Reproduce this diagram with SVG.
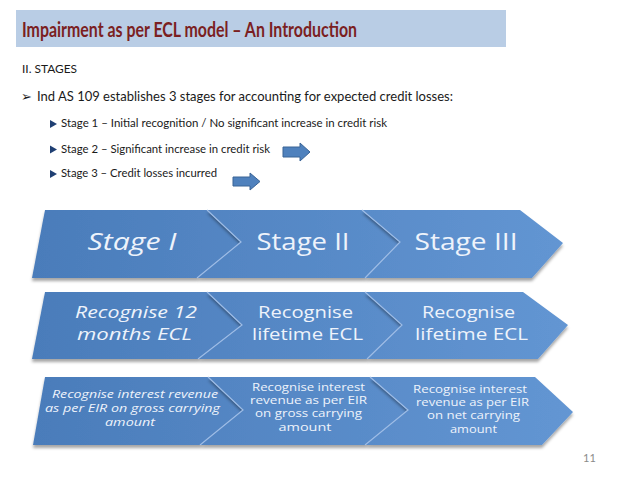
<svg xmlns="http://www.w3.org/2000/svg" width="638" height="479" viewBox="0 0 638 479">
<defs>
<linearGradient id="rowGrad" gradientUnits="userSpaceOnUse" x1="30" y1="0" x2="575" y2="0">
<stop offset="0" stop-color="#4a7cba"/>
<stop offset="1" stop-color="#6396d3"/>
</linearGradient>
<filter id="shadow" x="-5%" y="-10%" width="110%" height="130%">
<feDropShadow dx="0" dy="3" stdDeviation="1.8" flood-color="#000" flood-opacity="0.35"/>
</filter>
</defs>
<style>
.bg{fill:#ffffff}
.title-bar{fill:#b9cde5}
.title{font-family:Lato,"Open Sans",sans-serif;font-weight:bold;font-size:21px;fill:#7b1f22}
.body{font-family:Lato,"Open Sans",sans-serif;fill:#1a1a1a}
.shape{fill:url(#rowGrad);filter:url(#shadow)}
.sep{fill:none;stroke:#9dbce6;stroke-width:1.2}
.st{font-family:"Open Sans",Lato,sans-serif;fill:#eef3fb;text-anchor:middle}
.it{font-style:italic}
.r1{font-size:24px}
.r2{font-size:17px}
.r3{font-size:10.8px}
.barrow{fill:#4f81bd;stroke:#3a6496;stroke-width:1}
.bul{fill:#1f3f73}
.pg{font-family:Lato,"Open Sans",sans-serif;font-size:11px;fill:#8a8a8a}
</style>
<rect class="bg" x="0" y="0" width="638" height="479"/>

<g id="title">
<rect class="title-bar" x="16" y="10" width="490" height="37"/>
<text class="title" x="22" y="36.5" textLength="335" lengthAdjust="spacingAndGlyphs">Impairment as per ECL model – An Introduction</text>
</g>

<g id="intro-text">
<text class="body" x="22" y="72.5" font-size="12" textLength="55" lengthAdjust="spacingAndGlyphs">II. STAGES</text>
<text class="body" x="21" y="101" font-size="13" font-family="DejaVu Sans, sans-serif">➢</text>
<text class="body" x="37" y="101" font-size="13.5" textLength="416" lengthAdjust="spacingAndGlyphs">Ind AS 109 establishes 3 stages for accounting for expected credit losses:</text>
<polygon class="bul" points="50,120 50,128 57,124"/>
<text class="body" x="61" y="127" font-size="10.5" textLength="326" lengthAdjust="spacingAndGlyphs">Stage 1 – Initial recognition / No significant increase in credit risk</text>
<polygon class="bul" points="50,145.5 50,153.5 57,149.5"/>
<text class="body" x="61" y="152.5" font-size="10.5" textLength="209" lengthAdjust="spacingAndGlyphs">Stage 2 – Significant increase in credit risk</text>
<polygon class="bul" points="50,170 50,178 57,174"/>
<text class="body" x="61" y="177" font-size="10.5" textLength="156" lengthAdjust="spacingAndGlyphs">Stage 3 – Credit losses incurred</text>
</g>

<g id="connectors">
<polygon class="barrow" points="283,147 300,147 300,143 310,152 300,161 300,157 283,157"/>
<polygon class="barrow" points="233,177 250,177 250,173 260,181.5 250,190 250,186 233,186"/>
</g>

<g id="stage-1">
<polygon class="shape" points="45,210 207,210 241,242 197,278 32,278"/>
<text class="st it r1" x="132" y="250" textLength="89" lengthAdjust="spacingAndGlyphs">Stage I</text>
</g>
<g id="stage-2">
<polygon class="shape" points="207,210 362,210 400,242 365,278 197,278 241,242"/>
<polyline class="sep" points="207,210 241,242 197,278"/>
<text class="st r1" x="303" y="250" textLength="93" lengthAdjust="spacingAndGlyphs">Stage II</text>
</g>
<g id="stage-3">
<polygon class="shape" points="362,210 520,210 563,243 532,278 365,278 400,242"/>
<polyline class="sep" points="362,210 400,242 365,278"/>
<text class="st r1" x="466" y="250" textLength="103" lengthAdjust="spacingAndGlyphs">Stage III</text>
</g>

<g id="ecl-1">
<polygon class="shape" points="45,292 207,292 242,325 198,359 32,359"/>
<text class="st it r2" x="136" y="318" textLength="122" lengthAdjust="spacingAndGlyphs">Recognise 12</text>
<text class="st it r2" x="134.5" y="340" textLength="115" lengthAdjust="spacingAndGlyphs">months ECL</text>
</g>
<g id="ecl-2">
<polygon class="shape" points="207,292 365,292 402,325 367,359 198,359 242,325"/>
<polyline class="sep" points="207,292 242,325 198,359"/>
<text class="st r2" x="305.5" y="318" textLength="95" lengthAdjust="spacingAndGlyphs">Recognise</text>
<text class="st r2" x="307.5" y="340" textLength="111" lengthAdjust="spacingAndGlyphs">lifetime ECL</text>
</g>
<g id="ecl-3">
<polygon class="shape" points="365,292 523,292 568,325 538,359 367,359 402,325"/>
<polyline class="sep" points="365,292 402,325 367,359"/>
<text class="st r2" x="468.5" y="318" textLength="93" lengthAdjust="spacingAndGlyphs">Recognise</text>
<text class="st r2" x="471.5" y="340" textLength="113" lengthAdjust="spacingAndGlyphs">lifetime ECL</text>
</g>

<g id="revenue-1">
<polygon class="shape" points="45,377 208,377 243,410 200,445 33,445"/>
<text class="st it r3" x="135" y="397.5" textLength="166" lengthAdjust="spacingAndGlyphs">Recognise interest revenue</text>
<text class="st it r3" x="132.5" y="411.5" textLength="175" lengthAdjust="spacingAndGlyphs">as per EIR on gross carrying</text>
<text class="st it r3" x="130" y="425.5" textLength="50" lengthAdjust="spacingAndGlyphs">amount</text>
</g>
<g id="revenue-2">
<polygon class="shape" points="208,377 370,377 408,410 365,445 200,445 243,410"/>
<polyline class="sep" points="208,377 243,410 200,445"/>
<text class="st r3" x="308.5" y="391" textLength="113" lengthAdjust="spacingAndGlyphs">Recognise interest</text>
<text class="st r3" x="308.5" y="404" textLength="117" lengthAdjust="spacingAndGlyphs">revenue as per EIR</text>
<text class="st r3" x="308.5" y="417" textLength="107" lengthAdjust="spacingAndGlyphs">on gross carrying</text>
<text class="st r3" x="305" y="430.5" textLength="53" lengthAdjust="spacingAndGlyphs">amount</text>
</g>
<g id="revenue-3">
<polygon class="shape" points="370,377 535,377 573,412 542,445 365,445 408,410"/>
<polyline class="sep" points="370,377 408,410 365,445"/>
<text class="st r3" x="470" y="393" textLength="114" lengthAdjust="spacingAndGlyphs">Recognise interest</text>
<text class="st r3" x="472.5" y="406" textLength="113" lengthAdjust="spacingAndGlyphs">revenue as per EIR</text>
<text class="st r3" x="473.5" y="419" textLength="93" lengthAdjust="spacingAndGlyphs">on net carrying</text>
<text class="st r3" x="473.5" y="432.5" textLength="47" lengthAdjust="spacingAndGlyphs">amount</text>
</g>

<text class="pg" x="583" y="461.5">11</text>
</svg>
